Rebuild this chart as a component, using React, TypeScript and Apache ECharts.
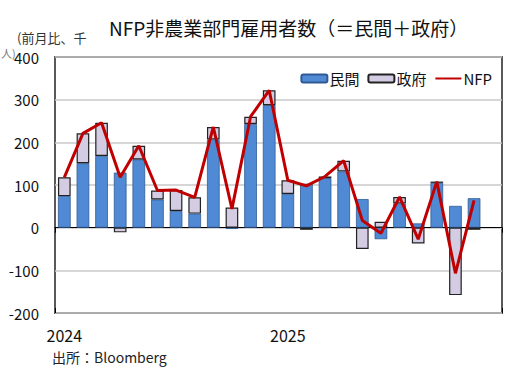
import React, { useEffect, useRef } from "react";
import * as echarts from "echarts";

const categories = [
  "2024-01","2024-02","2024-03","2024-04","2024-05","2024-06","2024-07","2024-08","2024-09","2024-10","2024-11","2024-12",
  "2025-01","2025-02","2025-03","2025-04","2025-05","2025-06","2025-07","2025-08","2025-09","2025-10","2025-11","2025-12",
];
const yearLabels: Record<number, string> = { 0: "2024", 12: "2025" };
const privateJobs = [74,151,168,129,160,66,39,33,207,-3,243,287, 79,103,116,132,67,-27,57,10,105,51,69, null];
const governmentJobs = [44,70,78,-11,32,21,49,38,29,47,17,35, 32,-5,4,25,-50,14,15,-37,3,-158,-5, null];
const nfp = privateJobs.map((p, i) => (p === null || governmentJobs[i] === null ? null : (p as number) + (governmentJobs[i] as number)));

const FONT = "'Noto Sans CJK JP', 'Noto Sans', sans-serif";

export default function App() {
  const ref = useRef<HTMLDivElement>(null);
  useEffect(() => {
    if (!ref.current) return;
    const chart = echarts.init(ref.current, null, { renderer: "svg" });
    chart.setOption({
      animation: false,
      backgroundColor: "#ffffff",
      textStyle: { fontFamily: FONT },
      title: {
        text: "NFP非農業部門雇用者数（＝民間＋政府）",
        left: 104,
        top: 13,
        textStyle: { fontSize: 19, fontWeight: "normal", color: "#111", fontFamily: FONT },
      },
      legend: {
        right: 18,
        top: 66,
        itemWidth: 26,
        itemHeight: 8,
        itemGap: 8,
        textStyle: { fontSize: 15, color: "#111", fontFamily: FONT, padding: [0, 0, 0, -3] },
        data: [
          "民間",
          "政府",
          { name: "NFP", itemStyle: { color: "rgba(0,0,0,0)", borderColor: "rgba(0,0,0,0)", borderWidth: 0 } },
        ],
      },
      graphic: [
        { type: "text", left: 17, top: 31, style: { text: "(前月比、千", fontSize: 13, fill: "#333", fontFamily: FONT } },
        { type: "text", left: 1, top: 47, style: { text: "人)", fontSize: 11, fill: "#777", fontFamily: FONT } },
        { type: "text", left: 52, top: 350, style: { text: "出所：Bloomberg", fontSize: 14, fill: "#222", fontFamily: FONT } },
      ],
      grid: {
        left: 55,
        right: 13,
        top: 57,
        bottom: 56,
        show: true,
        borderColor: "#595959",
        borderWidth: 2,
        backgroundColor: "transparent",
      },
      xAxis: [
        {
          type: "category",
          data: categories,
          position: "bottom",
          axisLine: { show: false, onZero: false },
          axisTick: { show: false },
          axisLabel: {
            interval: 0,
            margin: 14,
            fontSize: 16,
            color: "#111",
            fontFamily: FONT,
            formatter: (_v: string, i: number) => yearLabels[i] ?? "",
          },
        },
        {
          type: "category",
          data: categories,
          position: "bottom",
          axisLine: { show: true, onZero: true, lineStyle: { color: "#000", width: 1 } },
          axisTick: {
            show: true,
            length: 5,
            interval: (i: number) => i === 12,
            lineStyle: { color: "#000" },
          },
          axisLabel: { show: false },
          splitLine: { show: false },
        },
        {
          type: "category",
          data: categories,
          position: "bottom",
          axisLine: { show: false, onZero: true },
          axisTick: {
            show: true,
            inside: true,
            length: 5,
            interval: (i: number) => i === 12,
            lineStyle: { color: "#000" },
          },
          axisLabel: { show: false },
          splitLine: { show: false },
        },
      ],
      yAxis: {
        type: "value",
        min: -200,
        max: 400,
        interval: 100,
        axisLine: { show: false },
        axisTick: { show: false },
        axisLabel: { fontSize: 15, color: "#111", margin: 16, fontFamily: FONT },
        splitLine: { show: true, lineStyle: { color: "#c8c8c8", width: 1.5 } },
      },
      series: [
        {
          name: "民間",
          type: "bar",
          stack: "total",
          data: privateJobs,
          barWidth: "68%",
          itemStyle: { color: "#508ad4", borderColor: "#2f5a96", borderWidth: 0.8 },
          z: 2,
        },
        {
          name: "政府",
          type: "bar",
          stack: "total",
          data: governmentJobs,
          barWidth: "68%",
          itemStyle: { color: "#d3cce3", borderColor: "#222", borderWidth: 1.2 },
          z: 2,
        },
        {
          name: "NFP",
          type: "line",
          data: nfp,
          symbol: "none",
          lineStyle: { color: "#c00000", width: 3 },
          itemStyle: { color: "#c00000" },
          z: 5,
        },
      ],
    });
    return () => chart.dispose();
  }, []);
  return <div ref={ref} style={{ position: "fixed", left: 0, top: 0, width: 515, height: 369 }} />;
}
